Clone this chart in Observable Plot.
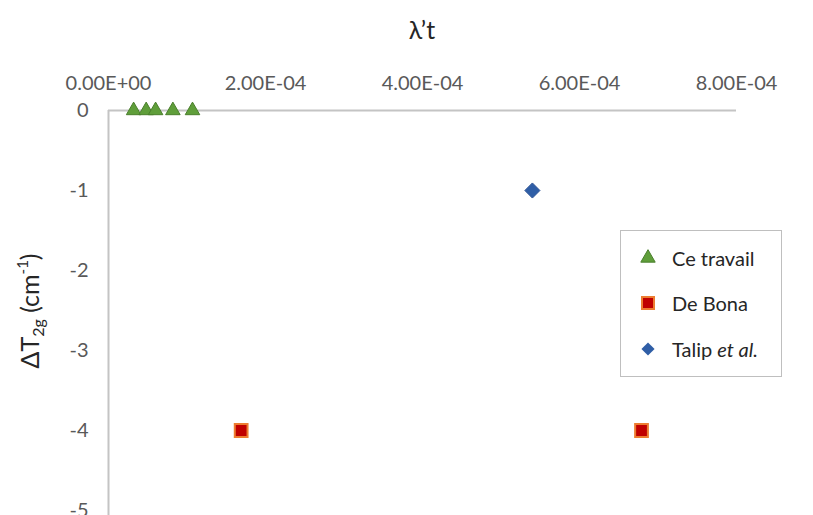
<!DOCTYPE html>
<html>
<head>
<meta charset="utf-8">
<script src="https://cdn.jsdelivr.net/npm/d3@7"></script>
<script src="https://cdn.jsdelivr.net/npm/@observablehq/plot@0.6"></script>
<style>
  html, body { margin: 0; padding: 0; background: #fff; }
  #wrap { position: relative; width: 813px; height: 515px; overflow: hidden; font-family: Lato, "Open Sans", sans-serif; }
  #title { position: absolute; left: 0; width: 844px; top: 14px; text-align: center; font-size: 25px; color: #262626; }
  #ylab { position: absolute; left: 30px; top: 311px; transform: translate(-50%, -50%) rotate(-90deg); white-space: nowrap; font-size: 25px; color: #262626; }
  #ylab sub { font-size: 16px; vertical-align: -5px; }
  #ylab sup { font-size: 15px; vertical-align: 11px; line-height: 0; }
  #legend { position: absolute; left: 620px; top: 230px; width: 162px; height: 147px; border: 1px solid #bfbfbf; box-sizing: border-box; background: #fff; }
  .item { position: absolute; left: 18px; display: flex; align-items: center; font-size: 20px; color: #262626; white-space: nowrap; }
  .item svg { width: 18px; height: 18px; margin-right: 15px; }
</style>
</head>
<body>
<div id="wrap">
  <div id="chart"></div>
  <div id="title">λ’t</div>
  <div id="ylab">ΔT<sub>2g</sub> (cm<sup>-1</sup>)</div>
  <div id="legend"></div>
</div>
<script>
// Data
const ceTravailX = [3.2e-5, 4.8e-5, 6.0e-5, 8.2e-5, 1.07e-4];
const ceTravailY = [0, 0, 0, 0, 0];
const deBonaX = [1.69e-4, 6.79e-4];
const deBonaY = [-4, -4];
const talipX = [5.40e-4];
const talipY = [-1];
const xTicks = [0, 2e-4, 4e-4, 6e-4, 8e-4];
const yTicks = [0, -1, -2, -3, -4, -5];
const seriesNames = ["Ce travail", "De Bona", "Talip et al."];

const toRows = (xs, ys) => xs.map((x, i) => ({x, y: ys[i]}));
const ceRows = toRows(ceTravailX, ceTravailY);
const bonaRows = toRows(deBonaX, deBonaY);
const talipRows = toRows(talipX, talipY);

function sci(d) {
  if (d === 0) return "0.00E+00";
  const [m, e] = d.toExponential(2).split("e");
  const n = parseInt(e, 10);
  const sign = n < 0 ? "-" : "+";
  return m + "E" + sign + String(Math.abs(n)).padStart(2, "0");
}

const chart = Plot.plot({
  width: 813,
  height: 515,
  marginTop: 110,
  marginLeft: 108,
  marginRight: 77,
  marginBottom: 5,
  x: {domain: [0, 8e-4]},
  y: {domain: [-5, 0]},
  style: {fontFamily: "Lato, 'Open Sans', sans-serif", fontSize: "20px", color: "#595959", background: "#fff", overflow: "visible"},
  marks: [
    Plot.ruleX([0], {y1: 0, y2: -5.2, stroke: "#c4c4c4", strokeWidth: 2, clip: false}),
    Plot.ruleY([0], {stroke: "#c4c4c4", strokeWidth: 2}),
    Plot.axisX({anchor: "top", ticks: xTicks, tickSize: 0, tickPadding: 21, tickFormat: sci, label: null, fill: "#595959"}),
    Plot.axisY({anchor: "left", ticks: yTicks, tickSize: 0, tickPadding: 20, tickFormat: d => d === 0 ? "0" : "-" + Math.abs(d), label: null, fill: "#595959"}),
    Plot.dot(ceRows, {x: "x", y: "y", symbol: "triangle", r: 5.4, fill: "#5f9e3a", stroke: "#4a7f2c", strokeWidth: 1}),
    Plot.dot(bonaRows, {x: "x", y: "y", symbol: "square", r: 7.2, fill: "#c00000", stroke: "#ed7d31", strokeWidth: 2}),
    Plot.dot(talipRows, {x: "x", y: "y", symbol: "diamond2", r: 6.8, fill: "#2f5ea6", stroke: "#2f5597", strokeWidth: 1})
  ]
});
document.getElementById("chart").appendChild(chart);

// Legend
const legend = document.getElementById("legend");
const legendSymbols = [
  '<svg viewBox="-9 -9 18 18"><path d="' + d3.symbol(d3.symbolTriangle, 90)() + '" fill="#5f9e3a" stroke="#4a7f2c"/></svg>',
  '<svg viewBox="-9 -9 18 18"><rect x="-6" y="-6" width="12" height="12" fill="#c00000" stroke="#ed7d31" stroke-width="2"/></svg>',
  '<svg viewBox="-9 -9 18 18"><path d="' + d3.symbol(d3.symbolDiamond2, 110)() + '" fill="#2f5ea6"/></svg>'
];
const labels = [seriesNames[0], seriesNames[1], 'Talip <i>et al.</i>'];
const tops = [15, 60, 106];
labels.forEach((lab, i) => {
  const div = document.createElement("div");
  div.className = "item";
  div.style.top = tops[i] + "px";
  div.innerHTML = legendSymbols[i] + "<span>" + lab + "</span>";
  legend.appendChild(div);
});
</script>
</body>
</html>
